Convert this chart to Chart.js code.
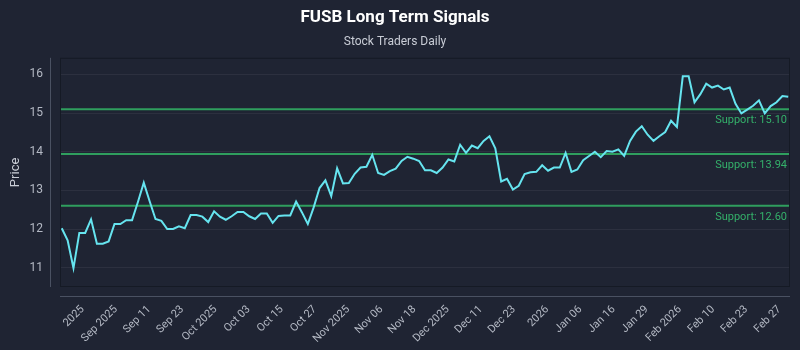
<!DOCTYPE html>
<html>
<head>
<meta charset="utf-8">
<script src="https://cdn.jsdelivr.net/npm/chart.js@4.4.1/dist/chart.umd.min.js"></script>
<style>
  html, body { margin: 0; padding: 0; background: #1f2433; }
  canvas { display: block; }
</style>
</head>
<body>
<canvas id="signalChart" width="800" height="350"></canvas>
<script>
// daily closes
const prices = [
    12.02, 11.71, 10.99, 11.90, 11.90, 12.25, 11.62, 11.62, 11.68, 12.13,
    12.13, 12.23, 12.23, 12.70, 13.20, 12.72, 12.26, 12.21, 12.00, 12.00,
    12.07, 12.02, 12.36, 12.36, 12.32, 12.18, 12.46, 12.32, 12.24, 12.33,
    12.44, 12.44, 12.33, 12.26, 12.40, 12.40, 12.16, 12.34, 12.35, 12.35,
    12.71, 12.43, 12.13, 12.56, 13.06, 13.26, 12.85, 13.57, 13.18, 13.19,
    13.43, 13.59, 13.61, 13.92, 13.45, 13.40, 13.50, 13.56, 13.76, 13.87,
    13.82, 13.76, 13.52, 13.52, 13.45, 13.59, 13.80, 13.75, 14.18, 13.97,
    14.16, 14.09, 14.28, 14.40, 14.09, 13.23, 13.30, 13.02, 13.12, 13.42,
    13.47, 13.48, 13.65, 13.51, 13.59, 13.59, 13.97, 13.48, 13.54, 13.78,
    13.89, 14.00, 13.86, 14.02, 14.00, 14.06, 13.89, 14.28, 14.52, 14.66,
    14.44, 14.28, 14.40, 14.51, 14.80, 14.64, 15.95, 15.95, 15.28, 15.49,
    15.76, 15.66, 15.71, 15.61, 15.66, 15.24, 14.99, 15.09, 15.19, 15.33,
    14.99, 15.18, 15.28, 15.44, 15.42
];

const supportLevels = [15.10, 13.94, 12.60];

const tickLabels = [
    '2025', 'Sep 2025', 'Sep 11', 'Sep 23', 'Oct 2025', 'Oct 03', 'Oct 15', 'Oct 27',
    'Nov 2025', 'Nov 06', 'Nov 18', 'Dec 2025', 'Dec 11', 'Dec 23', '2026', 'Jan 06',
    'Jan 16', 'Jan 29', 'Feb 2026', 'Feb 10', 'Feb 23', 'Feb 27'
];

const yTicks = [11, 12, 13, 14, 15, 16];

const FONT = "Roboto, 'Noto Sans', sans-serif";

const bgPlugin = {
    id: 'bg',
    beforeDraw(chart) {
        const { ctx } = chart;
        ctx.save();
        ctx.fillStyle = '#1f2433';
        ctx.fillRect(0, 0, chart.width, chart.height);
        ctx.restore();
    }
};

// support lines, frame and the offset axis lines
const decorPlugin = {
    id: 'decor',
    beforeDatasetsDraw(chart) {
        const { ctx, chartArea: a, scales } = chart;
        ctx.save();
        supportLevels.forEach(level => {
            const y = scales.y.getPixelForValue(level);
            ctx.strokeStyle = '#2f9e5e';
            ctx.lineWidth = 2;
            ctx.beginPath();
            ctx.moveTo(a.left, y);
            ctx.lineTo(a.right, y);
            ctx.stroke();
            ctx.fillStyle = '#34b06a';
            ctx.font = '11px ' + FONT;
            ctx.textAlign = 'right';
            ctx.textBaseline = 'middle';
            ctx.fillText('Support: ' + level.toFixed(2), a.right - 3, y + 11);
        });
        ctx.restore();
    },
    afterDraw(chart) {
        const { ctx, chartArea: a } = chart;
        ctx.save();
        ctx.strokeStyle = '#151a25';
        ctx.lineWidth = 1;
        ctx.strokeRect(a.left + 0.5, a.top + 0.5, a.right - a.left - 1, a.bottom - a.top - 1);
        ctx.strokeStyle = '#4a5162';
        ctx.beginPath();
        ctx.moveTo(a.left - 9.5, a.top);
        ctx.lineTo(a.left - 9.5, a.bottom);
        ctx.moveTo(a.left, a.bottom + 9.5);
        ctx.lineTo(a.right, a.bottom + 9.5);
        ctx.stroke();
        ctx.restore();
    }
};

const ctx = document.getElementById('signalChart').getContext('2d');
new Chart(ctx, {
    type: 'line',
    data: {
        datasets: [{
            data: prices.map((p, i) => ({ x: i, y: p })),
            borderColor: '#66e4ef',
            borderWidth: 2,
            pointRadius: 0,
            tension: 0
        }]
    },
    options: {
        responsive: false,
        animation: false,
        layout: { padding: { left: 0, right: 10, top: 0, bottom: 0 } },
        plugins: {
            legend: { display: false },
            tooltip: { enabled: false },
            title: {
                display: true,
                text: 'FUSB Long Term Signals',
                color: '#ffffff',
                font: { family: FONT, size: 17, weight: 'bold' },
                padding: { top: 8, bottom: 4 }
            },
            subtitle: {
                display: true,
                text: 'Stock Traders Daily',
                color: '#c9cdd6',
                font: { family: FONT, size: 12 },
                padding: { top: 2, bottom: 9 }
            }
        },
        scales: {
            x: {
                type: 'linear',
                min: -0.3,
                max: prices.length - 1 + 0.3,
                grid: { display: false, drawTicks: false },
                border: { display: false },
                afterBuildTicks(scale) {
                    const first = 3.58, last = 122.5;
                    const step = (last - first) / (tickLabels.length - 1);
                    scale.ticks = tickLabels.map((_, i) => ({ value: first + i * step }));
                },
                afterFit(scale) {
                    scale.height = 63;
                    scale.paddingLeft = 0;
                    scale.paddingRight = 0;
                },
                ticks: {
                    autoSkip: false,
                    maxRotation: 45,
                    minRotation: 45,
                    padding: 16,
                    color: '#b4b9c4',
                    font: { family: FONT, size: 11 },
                    callback: (v, i) => tickLabels[i]
                }
            },
            y: {
                min: 10.5,
                max: 16.43,
                afterBuildTicks(scale) {
                    scale.ticks = yTicks.map(v => ({ value: v }));
                },
                afterFit(scale) { scale.width = 60; },
                grid: { color: 'rgba(255,255,255,0.06)', drawTicks: false },
                border: { display: false },
                title: {
                    display: true,
                    text: 'Price',
                    color: '#c9cdd6',
                    font: { family: FONT, size: 13 },
                    padding: { top: 8, bottom: 4 }
                },
                ticks: {
                    padding: 17,
                    color: '#b4b9c4',
                    font: { family: FONT, size: 12 }
                }
            }
        }
    },
    plugins: [bgPlugin, decorPlugin]
});
</script>
</body>
</html>
